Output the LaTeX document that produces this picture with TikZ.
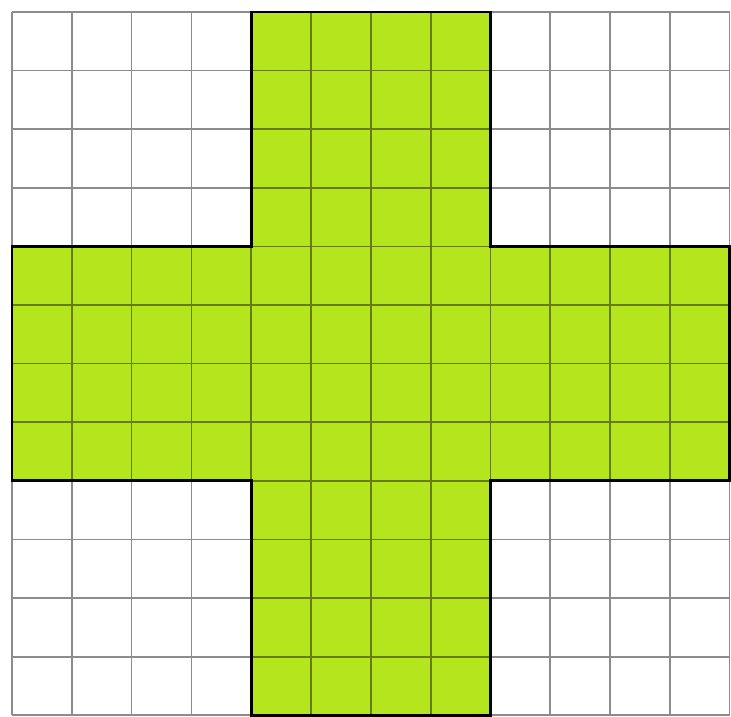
\documentclass[tikz,border=0pt]{standalone}
\definecolor{crossgreen}{RGB}{181,230,29}
\begin{document}
\begin{tikzpicture}[x=1.196cm,y=-1.172cm]
        \useasboundingbox (-0.2007,-0.2048) rectangle (12.023,12.03);
        \fill[white] (-0.2007,-0.2048) rectangle (12.023,12.03);
        \fill[crossgreen] (4,0) -- (8,0) -- (8,4) -- (12,4) -- (12,8) -- (8,8) -- (8,12) -- (4,12) -- (4,8) -- (0,8) -- (0,4) -- (4,4) -- cycle;
        \draw[black,opacity=0.45,line width=1pt,xstep=1.196cm,ystep=1.172cm] (0,0) grid (12,12);
        \draw[black,line width=1.6pt,line join=miter] (4,0) -- (8,0) -- (8,4) -- (12,4) -- (12,8) -- (8,8) -- (8,12) -- (4,12) -- (4,8) -- (0,8) -- (0,4) -- (4,4) -- cycle;
    \end{tikzpicture}
\end{document}
